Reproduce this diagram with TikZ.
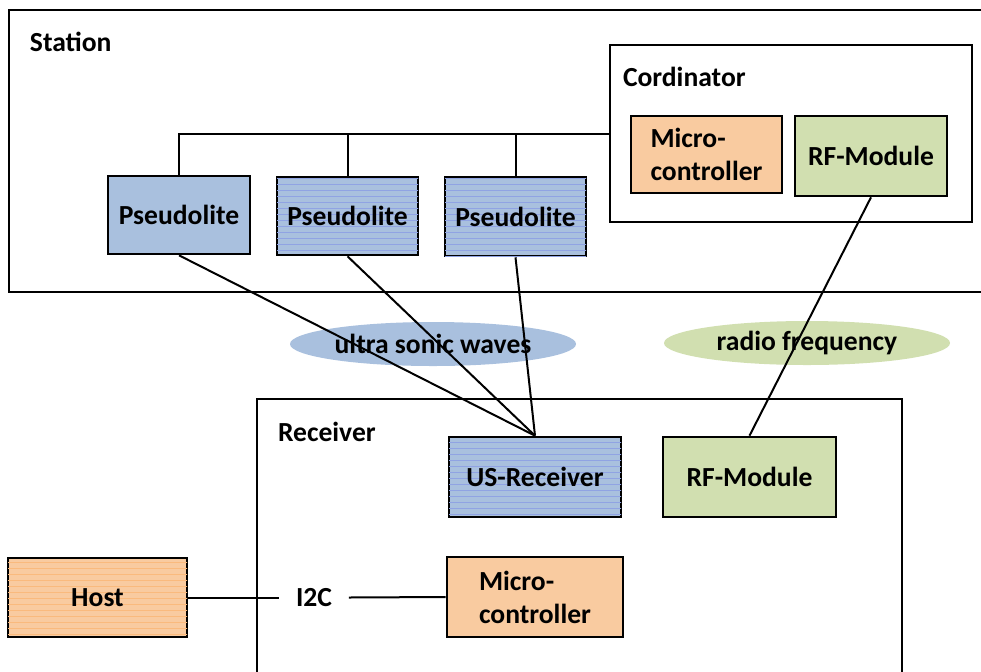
\documentclass[tikz,border=0pt]{standalone}
\usepackage{fontspec}
\setmainfont{Carlito}
\usetikzlibrary{shapes.geometric}
\usetikzlibrary{patterns}

\definecolor{usblue}{RGB}{169,192,222}
\definecolor{mcorange}{RGB}{249,203,160}
\definecolor{rfgreen}{RGB}{209,223,176}

\begin{document}
\begin{tikzpicture}
    [line width=1pt,x=0.5pt,y=-0.5pt,
     font=\bfseries\fontsize{13.8}{16.5}\selectfont,
     box/.style={draw,line width=1.3pt,inner sep=0pt,align=left},
     lined/.style={postaction={pattern=horizontal lines,pattern color=#1}},
     title/.style={anchor=west,inner sep=0pt},
     cloud/.style={ellipse,inner sep=0pt,minimum width=143pt,minimum height=22pt}]
    \useasboundingbox (0,0) rectangle (981,671);
    \clip (0,0) rectangle (981,671);
    \draw[line width=1.3pt] (9,10) rectangle (995,292);
    \draw[line width=1.3pt] (257,399) rectangle (902,690);
    \node[title] at (29,42) {Station};
    \node[title] at (277,432) {Receiver};
    \node[box,minimum width=181pt,minimum height=88.5pt] (Co) at (791,133.5) {};
    \node[title] at (622,77) {Cordinator};
    \node[box,fill=mcorange,minimum width=75.5pt,minimum height=38.5pt] (CoMC) at (706.5,154.5) {Micro-\\controller};
    \node[box,fill=rfgreen,minimum width=76pt,minimum height=40pt] (CoRF) at (871,156) {RF-Module};
    \node[box,fill=usblue,minimum width=71pt,minimum height=39pt] (P1) at (179,215) {Pseudolite};
    \node[box,fill=usblue,lined=blue!15!usblue,minimum width=70.5pt,minimum height=39pt] (P2) at (347.5,216) {Pseudolite};
    \node[box,fill=usblue,lined=blue!15!usblue,minimum width=70.5pt,minimum height=39.5pt] (P3) at (515.5,216.5) {Pseudolite};
    \node[cloud,fill=usblue] (US) at (433,344) {ultra sonic waves};
    \node[cloud,fill=rfgreen] (RF) at (807,343) {radio frequency};
    \node[box,fill=usblue,lined=blue!15!usblue,minimum width=86pt,minimum height=40pt] (USR) at (535,477) {US-Receiver};
    \node[box,fill=rfgreen,minimum width=86.5pt,minimum height=40pt] (RFR) at (749.5,477) {RF-Module};
    \node[box,fill=mcorange,minimum width=88pt,minimum height=40pt] (MC) at (535,597) {Micro-\\controller};
    \node[box,fill=mcorange,lined=orange!22!mcorange,minimum width=89.5pt,minimum height=39.5pt] (Host) at (97.5,597.5) {Host};
    \node[inner sep=8pt] (I2C) at (314,597.5) {I2C};
    \draw (P1.north) |- (Co.west);
    \draw (P2.north) -- (P2.north |- Co.west);
    \draw (P3.north) -- (P3.north |- Co.west);
    \draw (P1.south) -- (USR.north);
    \draw (P2.south) -- (USR.north);
    \draw (P3.south) -- (USR.north);
    \draw (CoRF.south) -- (RFR.north);
    \draw (Host.east) -- (I2C.west);
    \draw (I2C.east) -- (MC.west);
  \end{tikzpicture}
\end{document}
